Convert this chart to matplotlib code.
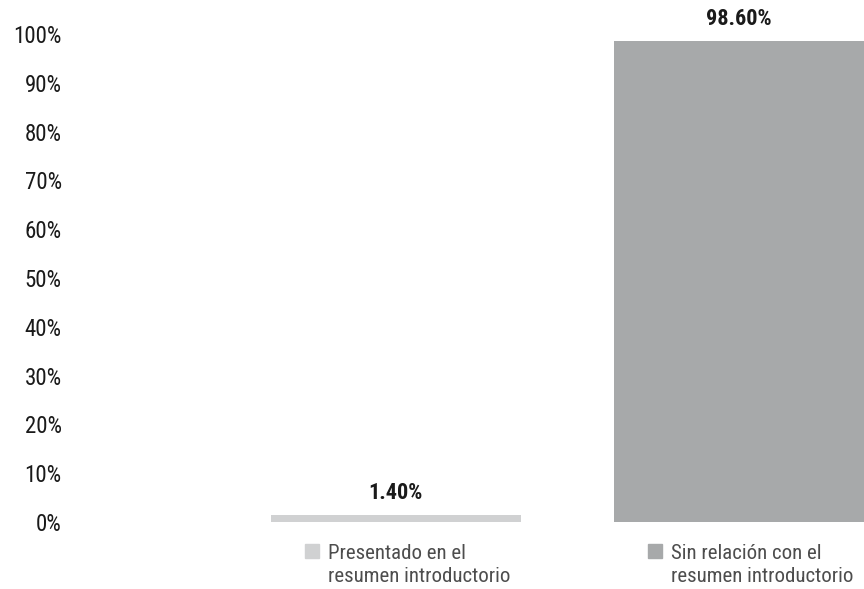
import matplotlib
matplotlib.use("Agg")
import matplotlib.pyplot as plt

# data
categories = ["Presentado en el\nresumen introductorio", "Sin relación con el\nresumen introductorio"]
values = [1.40, 98.60]
value_labels = ["1.40%", "98.60%"]
colors = ["#d0d1d2", "#a7a9aa"]
yticks = [0, 10, 20, 30, 40, 50, 60, 70, 80, 90, 100]

plt.rcParams['font.family'] = ['Roboto Condensed', 'Liberation Sans', 'DejaVu Sans']

fig = plt.figure(figsize=(8.64, 5.89), dpi=100)
ax = fig.add_axes([70/864, 67/589, 794/864, 488/589])

x = list(range(len(values)))
ax.bar(x, values, width=0.729, color=colors)
ax.set_xlim(-0.95, 1.3645)
ax.set_ylim(0, 100)

ax.set_yticks(yticks)
ax.set_yticklabels([f"{t}%" for t in yticks], fontsize=16.5, color="#1a1a1a")
ax.tick_params(axis="y", length=0, pad=6)
ax.set_xticks([])
for s in ax.spines.values():
    s.set_visible(False)

# value labels above bars
for xi, v, lab in zip(x, values, value_labels):
    ax.annotate(lab, (xi, v), xytext=(0, 8), textcoords="offset points",
                ha="center", va="bottom", fontsize=16, fontweight="bold",
                color="#1a1a1a", annotation_clip=False)

# legend entries under each bar
for xi, c, cat in zip(x, colors, categories):
    ax.plot([xi - 0.246], [-5.9], marker="s", markersize=9.5, color=c,
            clip_on=False, linestyle="none")
    ax.text(xi - 0.198, -4.6, cat, ha="left", va="top", fontsize=15,
            color="#4d4d4d", linespacing=1.25, clip_on=False)

fig.savefig("out.png", dpi=100)
